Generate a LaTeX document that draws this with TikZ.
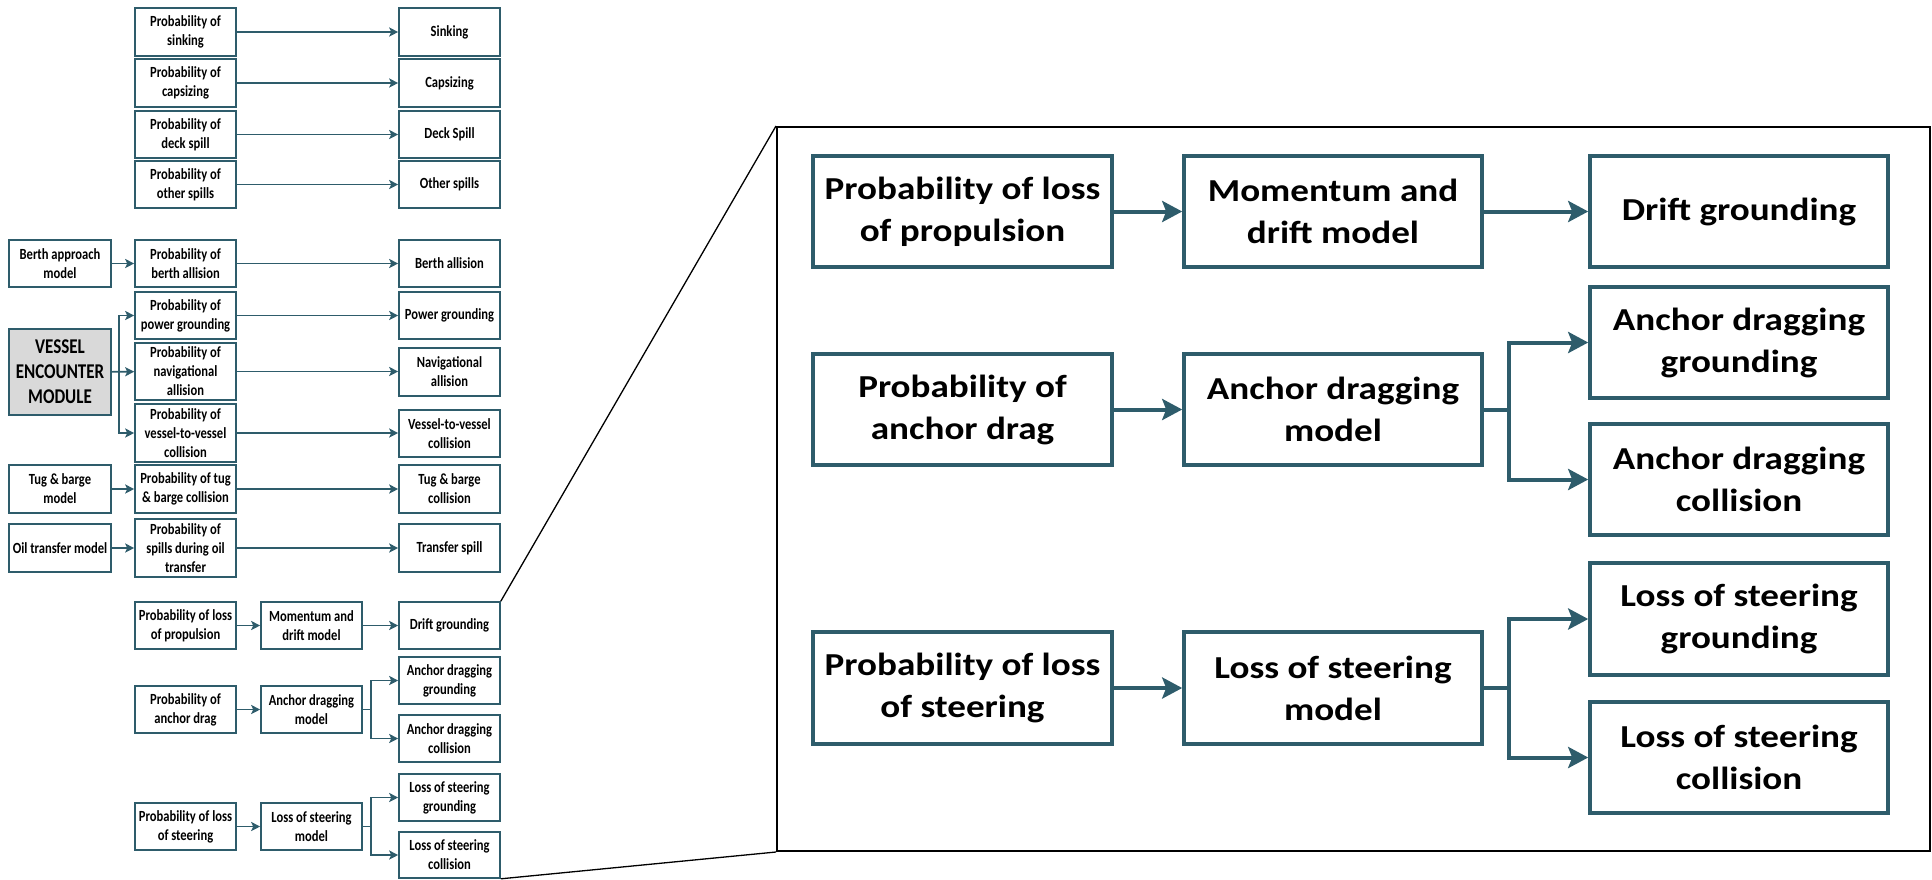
\documentclass[tikz,border=0pt]{standalone}
\usepackage{fontspec}
\setmainfont{Carlito}
\newfontfamily\smallface[FakeStretch=0.81]{Carlito}
\newfontfamily\bigface[FakeStretch=1.16]{Carlito}
\usetikzlibrary{arrows.meta}
\definecolor{edge}{HTML}{2E5C6B}
\definecolor{modfill}{HTML}{D9D9D9}

\tikzset{
  lbox/.style={draw=edge, line width=1.6pt, fill=white, inner sep=0pt, align=center,
    font=\smallface\bfseries\fontsize{15.5}{19}\selectfont},
  vbox/.style={lbox, fill=modfill, font=\smallface\bfseries\fontsize{21}{25}\selectfont},
  pbox/.style={draw=edge, line width=3.6pt, fill=white, inner sep=0pt, align=center,
    font=\bigface\bfseries\fontsize{32}{42}\selectfont},
  larrow/.style={draw=edge, line width=1.6pt, -{Stealth[length=9pt,width=9pt,inset=2pt]}},
  lline/.style={draw=edge, line width=1.6pt},
  parrow/.style={draw=edge, line width=4pt, -{Stealth[length=20pt,width=21pt,inset=4pt]}},
  pline/.style={draw=edge, line width=4pt},
  zoomline/.style={draw=black, line width=1.3pt},
}

% box given by its left, top, right and bottom edges
\newcommand\bx[7][lbox]{%
  \node[#1, minimum width={(#5-(#3))*1pt}, minimum height={(#6-(#4))*1pt}]
    (#2) at ({(#3+#5)/2},{(#4+#6)/2}) {#7};}

\begin{document}
\begin{tikzpicture}[x=1pt,y=-1pt]
\useasboundingbox (0,0) rectangle (1932,879);

% ---------- overview: source models ----------
\bx{bam}{9}{240}{111}{287}{Berth approach\\model}
\bx[vbox]{vem}{9}{329}{111}{415}{VESSEL\\ENCOUNTER\\MODULE}
\bx{tbm}{9}{465}{111}{513}{Tug \& barge\\model}
\bx{otm}{9}{524}{111}{572}{Oil transfer model}

% ---------- overview: probabilities ----------
\bx{psink}{135}{8}{236}{56}{Probability of\\sinking}
\bx{pcap}{135}{59}{236}{107}{Probability of\\capsizing}
\bx{pdeck}{135}{111}{236}{158}{Probability of\\deck spill}
\bx{pother}{135}{161}{236}{208}{Probability of\\other spills}
\bx{pberth}{135}{240}{236}{287}{Probability of\\berth allision}
\bx{ppow}{135}{292}{236}{339}{Probability of\\power grounding}
\bx{pnav}{135}{343}{236}{400}{Probability of\\navigational\\allision}
\bx{pvv}{135}{404}{236}{462}{Probability of\\vessel-to-vessel\\collision}
\bx{ptug}{135}{465}{236}{513}{Probability of tug\\\& barge collision}
\bx{poil}{135}{519}{236}{577}{Probability of\\spills during oil\\transfer}
\bx{pprop}{135}{602}{236}{649}{Probability of loss\\of propulsion}
\bx{panc}{135}{686}{236}{733}{Probability of\\anchor drag}
\bx{pste}{135}{803}{236}{850}{Probability of loss\\of steering}

% ---------- overview: intermediate models ----------
\bx{mdm}{261}{602}{362}{649}{Momentum and\\drift model}
\bx{adm}{261}{686}{362}{733}{Anchor dragging\\model}
\bx{lsm}{261}{803}{362}{850}{Loss of steering\\model}

% ---------- overview: outcomes ----------
\bx{sink}{399}{8}{500}{56}{Sinking}
\bx{cap}{399}{59}{500}{107}{Capsizing}
\bx{deck}{399}{111}{500}{158}{Deck Spill}
\bx{other}{399}{161}{500}{208}{Other spills}
\bx{berth}{399}{240}{500}{287}{Berth allision}
\bx{pow}{399}{292}{500}{339}{Power grounding}
\bx{nav}{399}{348}{500}{396}{Navigational\\allision}
\bx{vv}{399}{410}{500}{457}{Vessel-to-vessel\\collision}
\bx{tug}{399}{465}{500}{513}{Tug \& barge\\collision}
\bx{tsp}{399}{524}{500}{572}{Transfer spill}
\bx{dg}{399}{602}{500}{649}{Drift grounding}
\bx{adg}{399}{657}{500}{704}{Anchor dragging\\grounding}
\bx{adc}{399}{715}{500}{762}{Anchor dragging\\collision}
\bx{lsg}{399}{774}{500}{821}{Loss of steering\\grounding}
\bx{lsc}{399}{832}{500}{878}{Loss of steering\\collision}

% ---------- overview: connectors ----------
\draw[larrow] (psink) -- (sink);
\draw[larrow] (pcap) -- (cap);
\draw[larrow] (pdeck) -- (deck);
\draw[larrow] (pother) -- (other);
\draw[larrow] (bam) -- (pberth);
\draw[larrow] (pberth) -- (berth);
\draw[larrow] (vem) -- (pnav);
\coordinate (vj) at (119,372);
\draw[larrow] (vj) |- (ppow.west);
\draw[larrow] (vj) |- (pvv.west);
\draw[larrow] (ppow) -- (pow);
\draw[larrow] (pnav.east) -- (nav.west |- pnav.east);
\draw[larrow] (pvv.east) -- (vv.west |- pvv.east);
\draw[larrow] (tbm) -- (ptug);
\draw[larrow] (ptug) -- (tug);
\draw[larrow] (otm) -- (poil);
\draw[larrow] (poil) -- (tsp);
\draw[larrow] (pprop) -- (mdm);
\draw[larrow] (mdm) -- (dg);
\draw[larrow] (panc) -- (adm);
\coordinate (aj) at (371,709.5);
\draw[lline] (adm.east) -- (aj);
\draw[larrow] (aj) |- (adg.west);
\draw[larrow] (aj) |- (adc.west);
\draw[larrow] (pste) -- (lsm);
\coordinate (sj) at (371,826.5);
\draw[lline] (lsm.east) -- (sj);
\draw[larrow] (sj) |- (lsg.west);
\draw[larrow] (sj) |- (lsc.west);

% ---------- enlarged view ----------
\node[draw=black, line width=2pt, inner sep=0pt, minimum width=1153pt, minimum height=724pt]
  (frame) at (1353.5,489) {};
\draw[zoomline] (dg.north east) -- (frame.north west);
\draw[zoomline] (lsc.south east) -- (frame.south west);

\bx[pbox]{zprop}{813}{156}{1112}{267}{Probability of loss\\of propulsion}
\bx[pbox]{zmdm}{1184}{156}{1482}{267}{Momentum and\\drift model}
\bx[pbox]{zdg}{1590}{156}{1888}{267}{Drift grounding}
\bx[pbox]{zanc}{813}{354}{1112}{465}{Probability of\\anchor drag}
\bx[pbox]{zadm}{1184}{354}{1482}{465}{Anchor dragging\\model}
\bx[pbox]{zadg}{1590}{287}{1888}{398}{Anchor dragging\\grounding}
\bx[pbox]{zadc}{1590}{424}{1888}{535}{Anchor dragging\\collision}
\bx[pbox]{zste}{813}{632}{1112}{744}{Probability of loss\\of steering}
\bx[pbox]{zlsm}{1184}{632}{1482}{744}{Loss of steering\\model}
\bx[pbox]{zlsg}{1590}{563}{1888}{675}{Loss of steering\\grounding}
\bx[pbox]{zlsc}{1590}{702}{1888}{813}{Loss of steering\\collision}

\draw[parrow] (zprop) -- (zmdm);
\draw[parrow] (zmdm) -- (zdg);
\draw[parrow] (zanc) -- (zadm);
\coordinate (zaj) at (1509,409.5);
\draw[pline] (zadm.east) -- (zaj);
\draw[parrow] (zaj) |- (zadg.west);
\draw[parrow] (zaj) |- (zadc.west);
\draw[parrow] (zste) -- (zlsm);
\coordinate (zsj) at (1509,688);
\draw[pline] (zlsm.east) -- (zsj);
\draw[parrow] (zsj) |- (zlsg.west);
\draw[parrow] (zsj) |- (zlsc.west);
\end{tikzpicture}
\end{document}
